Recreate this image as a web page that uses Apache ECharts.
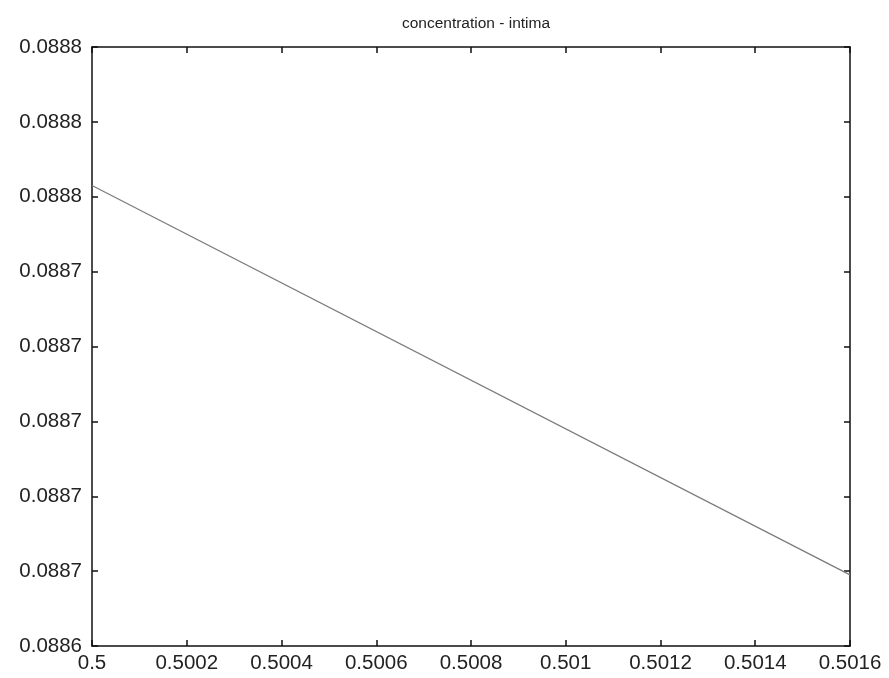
<!DOCTYPE html>
<html>
<head>
<meta charset="utf-8">
<script src="https://cdn.jsdelivr.net/npm/echarts@6/dist/echarts.min.js"></script>
<style>
  html, body { margin: 0; padding: 0; background: #fff; }
  #chart { width: 889px; height: 678px; }
</style>
</head>
<body>
<div id="chart"></div>
<script>
// Radial position (x) and intima concentration (y)
const positions = [0.5, 0.5016];
const concentration = [0.088763, 0.088659];

// Tick labels as printed (4 decimals)
const xTickLabels = ['0.5', '0.5002', '0.5004', '0.5006', '0.5008', '0.501', '0.5012', '0.5014', '0.5016'];
const yTickLabels = ['0.0886', '0.0887', '0.0887', '0.0887', '0.0887', '0.0887', '0.0888', '0.0888', '0.0888'];

const xMin = 0.5, xMax = 0.5016, xStep = 0.0002;
const yMin = 0.08864, yMax = 0.08880, yStep = 0.00002;

const chart = echarts.init(document.getElementById('chart'), null, { renderer: 'canvas' });

const font = 'Liberation Sans, Arial, sans-serif';
const frameLine = { show: true, lineStyle: { color: '#111', width: 1.5 } };
const innerTicks = { show: true, inside: true, length: 6, lineStyle: { color: '#111', width: 1.5 } };

chart.setOption({
  backgroundColor: '#fff',
  animation: false,
  title: {
    text: 'concentration - intima',
    left: 471, top: 11, textAlign: 'center',
    textStyle: { fontFamily: font, fontSize: 15.5, fontWeight: 'normal', color: '#222' }
  },
  grid: { left: 92, right: 39, top: 47, bottom: 32, containLabel: false },
  xAxis: [
    {
      type: 'value', min: xMin, max: xMax, interval: xStep, position: 'bottom',
      axisLine: frameLine, axisTick: innerTicks, splitLine: { show: false },
      axisLabel: {
        margin: 7, color: '#222', fontFamily: font, fontSize: 20.5,
        formatter: (v, i) => xTickLabels[i]
      }
    },
    {
      type: 'value', min: xMin, max: xMax, interval: xStep, position: 'top',
      axisLine: frameLine, axisTick: innerTicks, splitLine: { show: false },
      axisLabel: { show: false }
    }
  ],
  yAxis: [
    {
      type: 'value', min: yMin, max: yMax, interval: yStep, position: 'left',
      axisLine: frameLine, axisTick: innerTicks, splitLine: { show: false },
      axisLabel: {
        margin: 10, color: '#222', fontFamily: font, fontSize: 20.5,
        formatter: (v, i) => yTickLabels[i]
      }
    },
    {
      type: 'value', min: yMin, max: yMax, interval: yStep, position: 'right',
      axisLine: frameLine, axisTick: innerTicks, splitLine: { show: false },
      axisLabel: { show: false }
    }
  ],
  series: [
    {
      type: 'line',
      data: positions.map((x, i) => [x, concentration[i]]),
      showSymbol: false,
      lineStyle: { color: '#7a7a7a', width: 1.2 }
    }
  ]
});
</script>
</body>
</html>
